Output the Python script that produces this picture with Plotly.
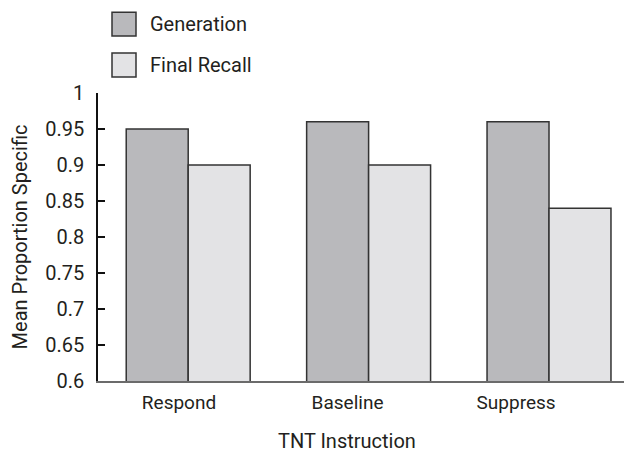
import plotly.graph_objects as go

categories = ["Respond", "Baseline", "Suppress"]
generation = [0.95, 0.96, 0.96]
final_recall = [0.90, 0.90, 0.84]
series_names = ["Generation", "Final Recall"]
y_ticks = [0.6, 0.65, 0.7, 0.75, 0.8, 0.85, 0.9, 0.95, 1]
y_tick_text = ["0.6", "0.65", "0.7", "0.75", "0.8", "0.85", "0.9", "0.95", "1"]

# page body has an 8px default margin; lay out in window pixels minus that
OFF = 8
W, H = 632 - OFF, 453 - OFF
L, R = 98 - OFF, 0
T = 93 - OFF
B = H - (381.5 - OFF)
PW = W - L - R
PH = H - T - B

FONT = "Roboto, Liberation Sans Narrow, DejaVu Sans Condensed, sans-serif"
TXT = "#231f20"
COL_GEN = "#b9b9bc"
COL_REC = "#e3e3e5"
EDGE = "#333333"

def px_x(px):
    return (px - OFF - L) / PW

def px_y(py):
    return (H - B - (py - OFF)) / PH

fig = go.Figure()
fig.add_trace(go.Bar(x=categories, y=generation, name=series_names[0],
                     marker=dict(color=COL_GEN, line=dict(color=EDGE, width=1.5)),
                     showlegend=False))
fig.add_trace(go.Bar(x=categories, y=final_recall, name=series_names[1],
                     marker=dict(color=COL_REC, line=dict(color=EDGE, width=1.5)),
                     showlegend=False))
# invisible helper trace for the label axis
fig.add_trace(go.Scatter(x=[0, 2], y=[0.6, 0.6], xaxis="x2", mode="none",
                         showlegend=False, hoverinfo="skip"))

fig.update_layout(
    width=W, height=H,
    margin=dict(l=L, r=R, t=T, b=B, autoexpand=False),
    paper_bgcolor="white", plot_bgcolor="white",
    barmode="group", bargap=0.313, bargroupgap=0,
    font=dict(family=FONT, size=20, color=TXT),
    xaxis=dict(type="category", range=[-0.5, 2.46], showticklabels=False,
               ticks="", showline=True, linecolor="#6b6b6b", linewidth=1.5,
               showgrid=False, zeroline=False, fixedrange=True),
    xaxis2=dict(overlaying="x", anchor="y", side="bottom", range=[-0.4807, 2.688],
                tickvals=[0, 1, 2], ticktext=categories, ticks="", showline=False,
                showgrid=False, zeroline=False, ticklabelstandoff=8,
                tickfont=dict(family=FONT, size=19, color=TXT)),
    yaxis=dict(range=[0.6, 1], tickvals=y_ticks, ticktext=y_tick_text,
               ticks="inside", ticklen=7, tickwidth=1.5, tickcolor="#111",
               showline=True, linecolor="#111", linewidth=1.5,
               showgrid=False, zeroline=False, ticklabelstandoff=8,
               tickfont=dict(family=FONT, size=20, color=TXT),
               title=dict(text="Mean Proportion Specific",
                          font=dict(family=FONT, size=20, color=TXT), standoff=12)),
)

# x-axis title
fig.add_annotation(text="TNT Instruction", xref="paper", yref="paper",
                   x=px_x(347), y=px_y(442), xanchor="center", yanchor="middle",
                   showarrow=False, font=dict(family=FONT, size=20, color=TXT))

# manual legend
legend_items = [(series_names[0], COL_GEN, 12), (series_names[1], COL_REC, 53)]
for name, col, top in legend_items:
    fig.add_shape(type="rect", xref="paper", yref="paper",
                  x0=px_x(112), x1=px_x(136), y0=px_y(top + 24), y1=px_y(top),
                  fillcolor=col, line=dict(color=EDGE, width=1.5))
    fig.add_annotation(text=name, xref="paper", yref="paper",
                       x=px_x(148), y=px_y(top + 12), xanchor="left", yanchor="middle",
                       showarrow=False, font=dict(family=FONT, size=20, color=TXT))

fig.write_html("out.html")
